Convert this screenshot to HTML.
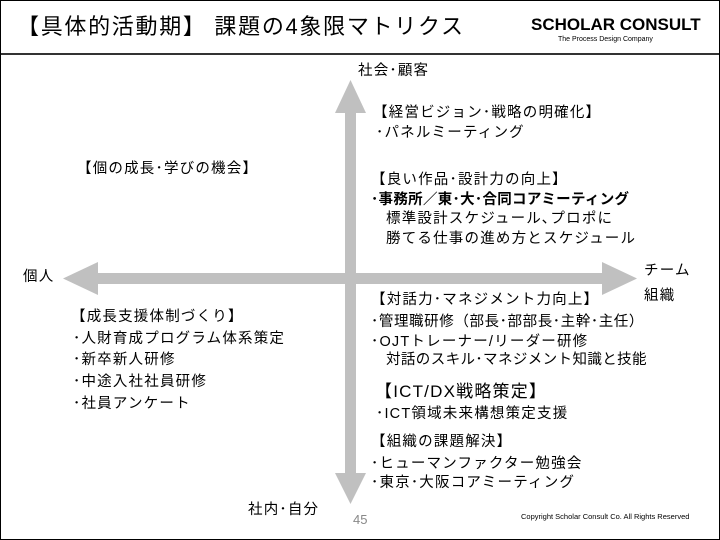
<!DOCTYPE html>
<html><head><meta charset="utf-8"><style>
body{margin:0;width:720px;height:540px;overflow:hidden;background:#fff;}
#f{position:relative;width:718px;height:538px;border:1px solid #000;font-family:"Liberation Sans","Noto Sans CJK JP",sans-serif;color:#000;}
.t{position:absolute;white-space:nowrap;font-size:14.5px;line-height:20px;letter-spacing:1.2px;}
</style></head><body><div id="f">
<div class="t" style="left:16px;top:12px;font-size:22px;line-height:28px;letter-spacing:1.7px;">【具体的活動期】 課題の4象限マトリクス</div>
<div class="t" style="left:530px;top:14px;font-size:17px;font-weight:bold;line-height:20px;letter-spacing:0;">SCHOLAR CONSULT</div>
<div class="t" style="left:557px;top:34px;font-size:7px;line-height:10px;letter-spacing:0;">The Process Design Company</div>
<div style="position:absolute;left:0;top:52px;width:718px;height:2px;background:#333;"></div>
<svg style="position:absolute;left:0;top:0" width="718" height="538">
<g fill="#c0c0c0">
<rect x="344" y="110" width="11" height="365"/>
<polygon points="349.5,79 334,112 365,112"/>
<polygon points="349.5,503 334,472 365,472"/>
<rect x="96" y="272" width="508" height="11"/>
<polygon points="62,277.5 97,261 97,294"/>
<polygon points="636,277.5 601,261 601,294"/>
</g></svg>
<div class="t" style="left:357px;top:60px;">社会･顧客</div>
<div class="t" style="left:22px;top:266px;">個人</div>
<div class="t" style="left:643px;top:260px;">チーム</div>
<div class="t" style="left:643px;top:285px;">組織</div>
<div class="t" style="left:247px;top:499px;">社内･自分</div>
<div class="t" style="left:352px;top:509px;color:#888;font-size:13px;letter-spacing:0;">45</div>
<div class="t" style="left:520px;top:510px;font-size:7.5px;line-height:12px;letter-spacing:0;">Copyright Scholar Consult Co. All Rights Reserved</div>

<div class="t" style="left:372px;top:102px;">【経営ビジョン･戦略の明確化】</div>
<div class="t" style="left:375px;top:122px;">･パネルミーティング</div>
<div class="t" style="left:76px;top:158px;">【個の成長･学びの機会】</div>
<div class="t" style="left:370px;top:169px;">【良い作品･設計力の向上】</div>
<div class="t" style="left:370px;top:189px;font-weight:bold;letter-spacing:0.3px;">･事務所／東･大･合同コアミーティング</div>
<div class="t" style="left:385px;top:208px;">標準設計スケジュール､プロポに</div>
<div class="t" style="left:385px;top:228px;">勝てる仕事の進め方とスケジュール</div>

<div class="t" style="left:70px;top:306px;">【成長支援体制づくり】</div>
<div class="t" style="left:72px;top:328px;">･人財育成プログラム体系策定</div>
<div class="t" style="left:72px;top:349px;">･新卒新人研修</div>
<div class="t" style="left:72px;top:371px;">･中途入社社員研修</div>
<div class="t" style="left:72px;top:393px;">･社員アンケート</div>

<div class="t" style="left:370px;top:289px;">【対話力･マネジメント力向上】</div>
<div class="t" style="left:370px;top:311px;letter-spacing:0.6px;">･管理職研修（部長･部部長･主幹･主任）</div>
<div class="t" style="left:370px;top:331px;">･OJTトレーナー/リーダー研修</div>
<div class="t" style="left:385px;top:349px;letter-spacing:0.4px;">対話のスキル･マネジメント知識と技能</div>
<div class="t" style="left:374px;top:381px;font-size:17px;">【ICT/DX戦略策定】</div>
<div class="t" style="left:375px;top:403px;">･ICT領域未来構想策定支援</div>
<div class="t" style="left:370px;top:431px;">【組織の課題解決】</div>
<div class="t" style="left:370px;top:453px;">･ヒューマンファクター勉強会</div>
<div class="t" style="left:370px;top:472px;">･東京･大阪コアミーティング</div>
</div></body></html>
